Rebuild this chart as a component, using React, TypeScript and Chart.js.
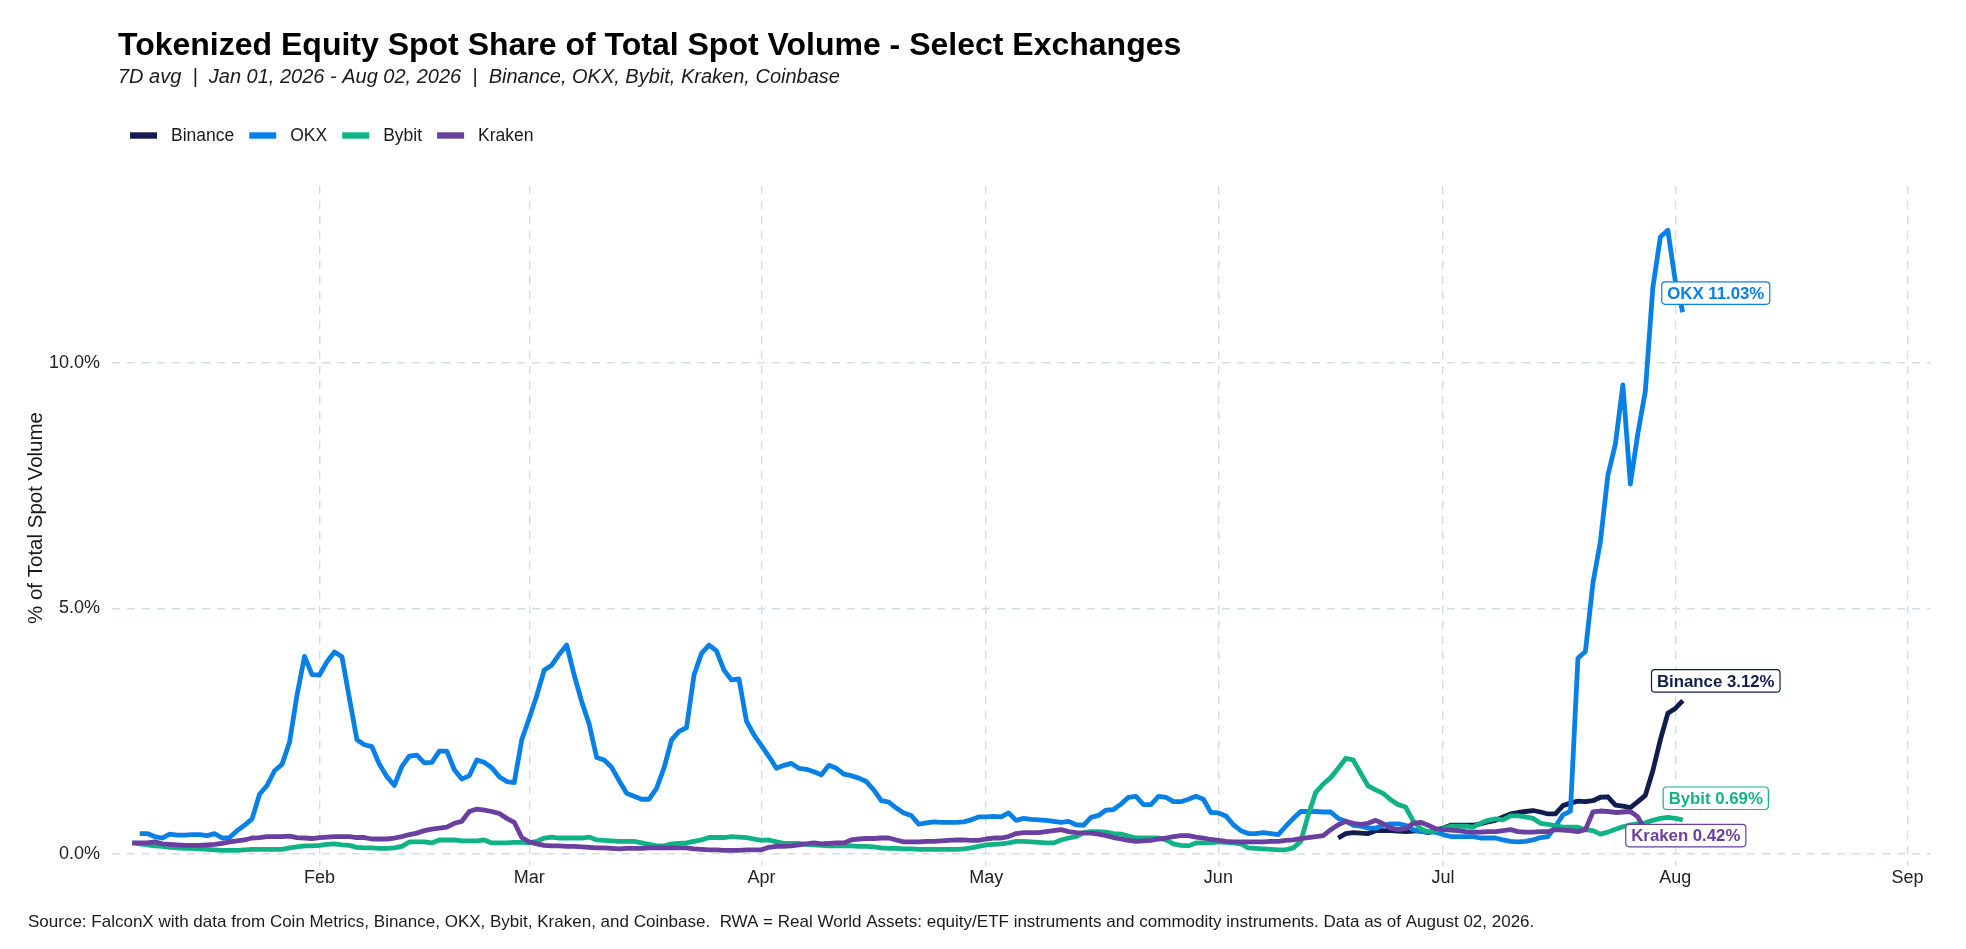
import React, { useEffect, useRef } from "react";
import { Chart, registerables } from "chart.js";

Chart.register(...registerables);

// x values are day offsets from Jan 01, 2026 (Jan 01 = 0); first point is Jan 07
const START_DAY = 6;

const monthTickDays = [31, 59, 90, 120, 151, 181, 212, 243];
const monthTickLabels = ["Feb", "Mar", "Apr", "May", "Jun", "Jul", "Aug", "Sep"];
const yTicks = [0, 5, 10];

// daily 7D avg share of total spot volume, % (Jan 07 .. Aug 02)
const okx = [
  null, 0.41, 0.41, 0.35, 0.32, 0.4, 0.38, 0.38, 0.39, 0.39, 0.37, 0.41, 0.32, 0.33, 0.47, 0.58,
  0.71, 1.21, 1.39, 1.69, 1.82, 2.27, 3.23, 4.02, 3.65, 3.64, 3.91, 4.11, 4.01, 3.16, 2.32, 2.22,
  2.18, 1.82, 1.57, 1.39, 1.78, 1.99, 2.01, 1.85, 1.86, 2.09, 2.09, 1.71, 1.52, 1.59, 1.91, 1.86,
  1.75, 1.57, 1.47, 1.45, 2.32, 2.76, 3.22, 3.74, 3.84, 4.06, 4.25, 3.64, 3.1, 2.64, 1.96, 1.91,
  1.76, 1.49, 1.23, 1.17, 1.11, 1.11, 1.33, 1.75, 2.32, 2.49, 2.57, 3.64, 4.08, 4.25, 4.13, 3.74,
  3.54, 3.56, 2.7, 2.42, 2.2, 1.98, 1.74, 1.8, 1.84, 1.74, 1.72, 1.67, 1.61, 1.8, 1.74, 1.62,
  1.59, 1.54, 1.47, 1.3, 1.08, 1.05, 0.93, 0.83, 0.78, 0.6, 0.63, 0.65, 0.64, 0.64, 0.64, 0.65,
  0.69, 0.75, 0.75, 0.76, 0.75, 0.83, 0.68, 0.72, 0.7, 0.69, 0.68, 0.66, 0.64, 0.66, 0.59, 0.58,
  0.74, 0.78, 0.89, 0.9, 1.01, 1.15, 1.17, 1.0, 1.0, 1.17, 1.15, 1.06, 1.06, 1.11, 1.17, 1.11,
  0.84, 0.83, 0.77, 0.59, 0.47, 0.41, 0.41, 0.43, 0.41, 0.39, 0.56, 0.72, 0.86, 0.86, 0.86, 0.85,
  0.85, 0.72, 0.66, 0.58, 0.56, 0.52, 0.52, 0.58, 0.61, 0.61, 0.58, 0.49, 0.45, 0.44, 0.44, 0.39,
  0.35, 0.35, 0.35, 0.35, 0.32, 0.32, 0.32, 0.28, 0.25, 0.24, 0.25, 0.28, 0.33, 0.35, 0.56, 0.79,
  0.87, 3.98, 4.12, 5.51, 6.36, 7.71, 8.34, 9.55, 7.53, 8.56, 9.42, 11.53, 12.56, 12.7, 11.66, 11.03,
];

const bybit = [
  0.22, 0.2, 0.18, 0.16, 0.15, 0.13, 0.12, 0.11, 0.11, 0.1, 0.09, 0.08, 0.07, 0.07, 0.07, 0.08,
  0.09, 0.09, 0.09, 0.09, 0.09, 0.12, 0.14, 0.16, 0.16, 0.17, 0.19, 0.2, 0.18, 0.17, 0.13, 0.12,
  0.12, 0.11, 0.11, 0.12, 0.15, 0.24, 0.24, 0.24, 0.22, 0.28, 0.28, 0.28, 0.26, 0.26, 0.26, 0.28,
  0.22, 0.22, 0.22, 0.23, 0.23, 0.22, 0.25, 0.32, 0.34, 0.32, 0.32, 0.32, 0.32, 0.34, 0.28, 0.27,
  0.26, 0.25, 0.25, 0.25, 0.22, 0.19, 0.16, 0.16, 0.2, 0.21, 0.22, 0.25, 0.28, 0.33, 0.33, 0.33,
  0.35, 0.34, 0.33, 0.3, 0.27, 0.28, 0.24, 0.21, 0.21, 0.21, 0.19, 0.18, 0.17, 0.16, 0.16, 0.16,
  0.16, 0.15, 0.15, 0.14, 0.12, 0.11, 0.11, 0.1, 0.1, 0.09, 0.09, 0.09, 0.09, 0.09, 0.09, 0.1,
  0.12, 0.15, 0.18, 0.19, 0.2, 0.22, 0.25, 0.25, 0.24, 0.23, 0.22, 0.22, 0.28, 0.32, 0.35, 0.43,
  0.45, 0.45, 0.44, 0.41, 0.4, 0.36, 0.32, 0.32, 0.32, 0.32, 0.28, 0.2, 0.17, 0.16, 0.22, 0.22,
  0.22, 0.24, 0.23, 0.22, 0.2, 0.12, 0.11, 0.1, 0.09, 0.08, 0.08, 0.12, 0.25, 0.79, 1.25, 1.42,
  1.55, 1.74, 1.94, 1.91, 1.64, 1.38, 1.3, 1.23, 1.1, 1.0, 0.95, 0.67, 0.51, 0.45, 0.47, 0.51,
  0.56, 0.56, 0.56, 0.54, 0.62, 0.68, 0.71, 0.69, 0.77, 0.77, 0.75, 0.72, 0.62, 0.6, 0.57, 0.54,
  0.54, 0.54, 0.49, 0.47, 0.4, 0.44, 0.5, 0.55, 0.59, 0.61, 0.63, 0.68, 0.72, 0.74, 0.72, 0.69,
];

const kraken = [
  0.22, 0.22, 0.22, 0.24, 0.2, 0.19, 0.18, 0.17, 0.17, 0.17, 0.18, 0.19, 0.21, 0.24, 0.26, 0.28,
  0.32, 0.33, 0.35, 0.35, 0.35, 0.36, 0.33, 0.32, 0.31, 0.33, 0.34, 0.35, 0.35, 0.35, 0.33, 0.33,
  0.3, 0.3, 0.3, 0.32, 0.35, 0.39, 0.42, 0.47, 0.5, 0.52, 0.54, 0.62, 0.66, 0.86, 0.91, 0.89,
  0.86, 0.82, 0.72, 0.64, 0.33, 0.24, 0.2, 0.17, 0.16, 0.16, 0.15, 0.15, 0.14, 0.13, 0.12, 0.12,
  0.11, 0.1, 0.11, 0.11, 0.11, 0.12, 0.12, 0.12, 0.12, 0.12, 0.12, 0.1, 0.09, 0.08, 0.08, 0.07,
  0.07, 0.07, 0.08, 0.08, 0.08, 0.13, 0.15, 0.15, 0.16, 0.18, 0.2, 0.22, 0.2, 0.21, 0.22, 0.22,
  0.28, 0.3, 0.31, 0.31, 0.32, 0.32, 0.28, 0.24, 0.24, 0.24, 0.25, 0.25, 0.26, 0.27, 0.28, 0.28,
  0.27, 0.27, 0.3, 0.32, 0.32, 0.35, 0.41, 0.43, 0.43, 0.43, 0.45, 0.47, 0.49, 0.45, 0.43, 0.42,
  0.42, 0.4, 0.37, 0.33, 0.3, 0.27, 0.25, 0.26, 0.27, 0.3, 0.32, 0.35, 0.37, 0.37, 0.34, 0.32,
  0.29, 0.27, 0.25, 0.24, 0.24, 0.24, 0.24, 0.24, 0.25, 0.25, 0.27, 0.28, 0.31, 0.33, 0.35, 0.37,
  0.49, 0.59, 0.66, 0.62, 0.6, 0.62, 0.68, 0.61, 0.52, 0.49, 0.51, 0.62, 0.64, 0.58, 0.51, 0.49,
  0.48, 0.47, 0.45, 0.44, 0.44, 0.45, 0.45, 0.47, 0.49, 0.45, 0.44, 0.44, 0.45, 0.45, 0.49, 0.48,
  0.47, 0.45, 0.49, 0.85, 0.87, 0.86, 0.84, 0.85, 0.86, 0.75, 0.45, 0.44, 0.43, 0.43, 0.42, 0.42,
];

// Binance only reported from mid-June
const binance = [
  ...Array(161).fill(null),
  0.32, 0.41, 0.43, 0.42, 0.41, 0.47, 0.47, 0.47, 0.46, 0.45, 0.46, 0.47, 0.43, 0.48, 0.52,
  0.58, 0.58, 0.58, 0.58, 0.61, 0.65, 0.68, 0.75, 0.81, 0.84, 0.86, 0.88, 0.85, 0.81, 0.81,
  0.98, 1.03, 1.07, 1.06, 1.08, 1.15, 1.16, 0.99, 0.97, 0.94, 1.06, 1.19, 1.69, 2.32, 2.86,
  2.96, 3.12,
];

const SERIES = [
  { name: "Binance", color: "#101d4e", values: binance },
  { name: "OKX", color: "#0880e6", values: okx },
  { name: "Bybit", color: "#11b386", values: bybit },
  { name: "Kraken", color: "#6b3f9f", values: kraken },
];

// end label offsets (days, %) from the last point
const LABEL_NUDGE: Record<string, [number, number]> = {
  Binance: [4.4, 0.4],
  OKX: [4.4, 0.39],
  Bybit: [4.4, 0.44],
  Kraken: [0.4, -0.05],
};

const FONT = "'Liberation Sans', Arial, Helvetica, sans-serif";
const GRID = "#d4dcec";

const TITLE = "Tokenized Equity Spot Share of Total Spot Volume - Select Exchanges";
const SUBTITLE =
  "7D avg  |  Jan 01, 2026 - Aug 02, 2026  |  Binance, OKX, Bybit, Kraken, Coinbase";
const Y_TITLE = "% of Total Spot Volume";
const FOOTER =
  "Source: FalconX with data from Coin Metrics, Binance, OKX, Bybit, Kraken, and Coinbase.  RWA = Real World Assets: equity/ETF instruments and commodity instruments. Data as of August 02, 2026.";

const decorPlugin = {
  id: "decor",
  afterDraw(chart: any) {
    const ctx = chart.ctx as CanvasRenderingContext2D;
    ctx.save();
    ctx.textBaseline = "alphabetic";
    ctx.textAlign = "left";

    ctx.fillStyle = "#000";
    ctx.font = `bold 32px ${FONT}`;
    ctx.fillText(TITLE, 118, 55);

    ctx.fillStyle = "#1a1a1a";
    ctx.font = `italic 20px ${FONT}`;
    ctx.fillText(SUBTITLE, 118, 83);

    // legend
    ctx.font = `17.5px ${FONT}`;
    ctx.textBaseline = "middle";
    let x = 130;
    const ly = 135.5;
    SERIES.forEach((s) => {
      ctx.fillStyle = s.color;
      ctx.fillRect(x, ly - 3.2, 27, 6.4);
      ctx.fillStyle = "#1a1a1a";
      ctx.fillText(s.name, x + 41, ly + 1);
      x += 41 + ctx.measureText(s.name).width + 15;
    });

    // y axis title
    ctx.save();
    ctx.translate(36, 518);
    ctx.rotate(-Math.PI / 2);
    ctx.textAlign = "center";
    ctx.font = `20.5px ${FONT}`;
    ctx.fillText(Y_TITLE, 0, 0);
    ctx.restore();

    ctx.font = `17px ${FONT}`;
    ctx.fillStyle = "#1a1a1a";
    ctx.fillText(FOOTER, 28, 922);
    ctx.restore();
  },
};

const endLabelPlugin = {
  id: "endLabels",
  afterDatasetsDraw(chart: any) {
    const ctx = chart.ctx as CanvasRenderingContext2D;
    const { x, y } = chart.scales;
    ctx.save();
    ctx.font = `bold 16.8px ${FONT}`;
    ctx.textAlign = "center";
    ctx.textBaseline = "middle";
    SERIES.forEach((s) => {
      const last = s.values[s.values.length - 1] as number;
      const lastDay = START_DAY + s.values.length - 1;
      const [dx, dy] = LABEL_NUDGE[s.name];
      const cx = x.getPixelForValue(lastDay + dx);
      const cy = y.getPixelForValue(last + dy);
      const text = `${s.name} ${last.toFixed(2)}%`;
      const w = ctx.measureText(text).width + 11;
      const h = 22.5;
      ctx.beginPath();
      ctx.roundRect(cx - w / 2, cy - h / 2, w, h, 3.5);
      ctx.fillStyle = "#fff";
      ctx.fill();
      ctx.lineWidth = 1.2;
      ctx.strokeStyle = s.color;
      ctx.stroke();
      ctx.fillStyle = s.color;
      ctx.fillText(text, cx, cy + 1);
    });
    ctx.restore();
  },
};

export default function App() {
  const canvasRef = useRef<HTMLCanvasElement | null>(null);
  const chartRef = useRef<Chart | null>(null);

  useEffect(() => {
    document.body.style.margin = "0";
    if (!canvasRef.current) return;
    if (chartRef.current) chartRef.current.destroy();

    const datasets = SERIES.map((s, i) => ({
      label: s.name,
      data: s.values.map((v, k) => ({ x: START_DAY + k, y: v })),
      borderColor: s.color,
      backgroundColor: s.color,
      borderWidth: 4.8,
      pointRadius: 0,
      tension: 0,
      spanGaps: false,
      order: SERIES.length - i, // later series drawn on top
    }));

    chartRef.current = new Chart(canvasRef.current, {
      type: "line",
      data: { datasets: datasets as any },
      options: {
        animation: false,
        responsive: false,
        maintainAspectRatio: false,
        layout: { padding: { left: 24, right: 36, top: 186, bottom: 43 } },
        elements: { line: { borderJoinStyle: "round", borderCapStyle: "butt" } },
        plugins: {
          legend: { display: false },
          tooltip: { enabled: false },
          title: { display: false },
        },
        scales: {
          x: {
            type: "linear",
            min: 3.3,
            max: 246,
            afterBuildTicks: (scale: any) => {
              scale.ticks = monthTickDays.map((v) => ({ value: v }));
            },
            afterFit: (scale: any) => {
              scale.height = 40;
            },
            ticks: {
              autoSkip: false,
              maxRotation: 0,
              padding: 1,
              color: "#222",
              font: { family: FONT, size: 18 },
              callback: (v: any) => monthTickLabels[monthTickDays.indexOf(Number(v))] ?? "",
            },
            grid: { color: GRID, lineWidth: 1.4, drawTicks: false },
            border: { display: false, dash: [8, 7] },
          },
          y: {
            min: -0.25,
            max: 13.6,
            afterBuildTicks: (scale: any) => {
              scale.ticks = yTicks.map((v) => ({ value: v }));
            },
            afterFit: (scale: any) => {
              scale.width = 88;
            },
            ticks: {
              padding: 12,
              color: "#222",
              font: { family: FONT, size: 18 },
              callback: (v: any) => `${Number(v).toFixed(1)}%`,
            },
            title: { display: false },
            grid: { color: GRID, lineWidth: 1.4, drawTicks: false },
            border: { display: false, dash: [8, 7] },
          },
        },
      },
      plugins: [decorPlugin, endLabelPlugin],
    });

    return () => {
      if (chartRef.current) chartRef.current.destroy();
      chartRef.current = null;
    };
  }, []);

  return (
    <div style={{ position: "relative", width: 1966, height: 949, background: "#fff" }}>
      <canvas ref={canvasRef} width={1966} height={949} style={{ display: "block" }} />
    </div>
  );
}
